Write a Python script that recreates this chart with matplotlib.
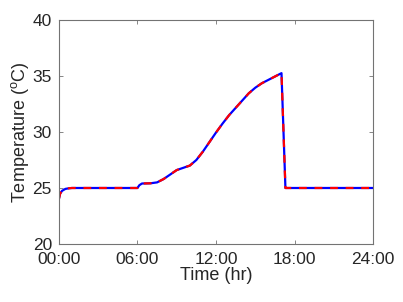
import matplotlib
matplotlib.use('Agg')
import matplotlib.pyplot as plt

plt.rcParams['font.family'] = ['Liberation Sans', 'DejaVu Sans']
plt.rcParams['mathtext.fontset'] = 'custom'
plt.rcParams['mathtext.rm'] = 'Liberation Sans'

# time in hours, temperature in degC
hours = [0.0, 0.1, 0.25, 0.5, 0.8, 1.0, 6.0, 6.15, 6.35, 7.0, 7.5, 8.0, 8.5,
         9.0, 9.5, 10.0, 10.5, 11.0, 11.5, 12.0, 12.5, 13.0, 13.5, 14.0,
         14.5, 15.0, 15.5, 16.0, 16.5, 17.0, 17.3, 24.0]
temp = [24.0, 24.5, 24.75, 24.92, 24.98, 25.0, 25.0, 25.25, 25.4, 25.42,
        25.5, 25.8, 26.2, 26.6, 26.8, 27.0, 27.5, 28.25, 29.1, 29.95, 30.75,
        31.5, 32.15, 32.8, 33.45, 33.95, 34.35, 34.65, 34.95, 35.25, 25.0,
        25.0]
xticks = [0, 6, 12, 18, 24]
xticklabels = ['00:00', '06:00', '12:00', '18:00', '24:00']
yticks = [20, 25, 30, 35, 40]

fig = plt.figure(figsize=(4.03, 3.02), dpi=100)
ax = fig.add_axes([0.146, 0.192, 0.78, 0.742])

# blue solid line with a red dashed copy on top
ax.plot(hours, temp, color='blue', lw=1.6)
ax.plot(hours, temp, color='red', lw=1.6, dashes=(3.5, 3.5))

ax.set_xlim(0, 24)
ax.set_ylim(20, 40)
ax.set_xticks(xticks)
ax.set_xticklabels(xticklabels)
ax.set_yticks(yticks)

tc = '0.15'
for s in ax.spines.values():
    s.set_color('0.45')
    s.set_linewidth(0.8)
ax.tick_params(direction='in', top=True, right=True, length=3, width=0.6,
               color='0.45', labelsize=12.5, labelcolor=tc)
ax.tick_params(axis='x', pad=6)
ax.tick_params(axis='y', pad=5)
ax.set_xlabel('Time (hr)', fontsize=13, color=tc, labelpad=0)
ax.set_ylabel('Temperature ($^{\\mathrm{o}}$C)', fontsize=13, color=tc,
              labelpad=1)

fig.savefig('out.png', dpi=100)
